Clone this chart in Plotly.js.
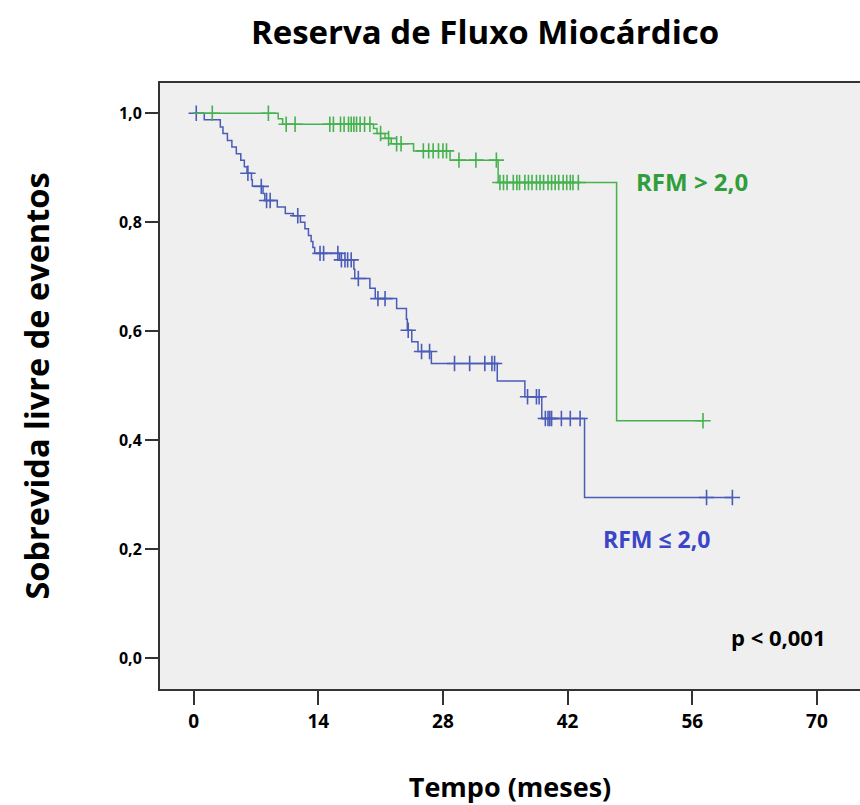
<!DOCTYPE html>
<html>
<head>
<meta charset="utf-8">
<script src="https://cdn.plot.ly/plotly-3.0.1.min.js"></script>
<style>html,body{margin:0;padding:0;background:#fff;}</style>
</head>
<body>
<div id="chart" style="width:860px;height:805px;"></div>
<script>
// Blue group: RFM <= 2,0
const blueEventT = [0, 1.2, 3.0, 3.3, 3.8, 4.3, 4.8, 5.3, 5.7, 6.0, 6.5, 6.6, 7.8, 8.0, 9.4, 10.3, 11.2, 12.0, 12.5, 12.9, 13.2, 13.4, 13.6, 16.4, 18.0, 18.1, 19.8, 20.4, 22.8, 23.9, 24.0, 24.5, 25.2, 26.7, 34.1, 37.2, 39.1, 43.9];
const blueEventS = [1.0, 0.988, 0.975, 0.963, 0.950, 0.938, 0.926, 0.914, 0.902, 0.890, 0.878, 0.866, 0.853, 0.840, 0.828, 0.816, 0.812, 0.800, 0.788, 0.776, 0.765, 0.754, 0.743, 0.731, 0.714, 0.697, 0.679, 0.660, 0.642, 0.622, 0.602, 0.581, 0.563, 0.541, 0.509, 0.480, 0.440, 0.295];
const blueCensorT = [0.3, 6.1, 7.6, 8.2, 8.6, 11.7, 14.2, 14.6, 16.2, 16.6, 17.0, 17.3, 17.7, 18.5, 20.7, 21.5, 24.1, 25.6, 26.5, 29.3, 31.0, 32.7, 33.5, 33.8, 37.5, 38.5, 38.8, 39.5, 39.8, 40.0, 40.2, 41.3, 42.3, 43.4, 57.6, 60.5];
const blueEndT = 60.5;

// Green group: RFM > 2,0
const greenEventT = [0, 9.5, 10.0, 20.2, 20.6, 21.5, 22.2, 24.7, 28.8, 34.2, 47.5];
const greenEventS = [1.0, 0.99, 0.98, 0.972, 0.963, 0.954, 0.944, 0.931, 0.914, 0.873, 0.436];
const greenCensorT = [2.1, 8.4, 10.4, 11.4, 15.3, 15.7, 16.5, 16.9, 17.4, 17.7, 18.0, 18.3, 18.7, 19.2, 19.8, 21.0, 21.9, 22.8, 23.3, 25.8, 26.4, 26.9, 27.5, 28.0, 28.4, 29.8, 31.7, 34.0, 34.4, 34.8, 35.2, 35.9, 36.3, 36.6, 37.2, 37.6, 38.0, 38.5, 38.9, 39.3, 39.8, 40.2, 40.6, 41.0, 41.5, 41.9, 42.3, 42.6, 43.2, 57.2];
const greenEndT = 57.2;

const xTickVals = [0, 14, 28, 42, 56, 70];
const xTickText = ['0', '14', '28', '42', '56', '70'];
const yTickVals = [0, 0.2, 0.4, 0.6, 0.8, 1.0];
const yTickText = ['0,0', '0,2', '0,4', '0,6', '0,8', '1,0'];

const blueColor = '#4a5cb8';
const greenColor = '#45b24f';

function survAt(ts, ss, t) {
  let s = ss[0];
  for (let i = 0; i < ts.length; i++) { if (ts[i] <= t) s = ss[i]; }
  return s;
}
function stepTrace(ts, ss, endT, color) {
  return {
    x: ts.concat([endT]), y: ss.concat([ss[ss.length - 1]]),
    mode: 'lines', line: {shape: 'hv', color: color, width: 1.5},
    hoverinfo: 'skip', showlegend: false, type: 'scatter'
  };
}
function censorTrace(cts, ts, ss, color) {
  return {
    x: cts, y: cts.map(t => survAt(ts, ss, t)),
    mode: 'markers',
    marker: {symbol: 'cross-thin', size: 11, line: {color: color, width: 1.6}, color: color},
    hoverinfo: 'skip', showlegend: false, type: 'scatter'
  };
}

const fontFam = '"Open Sans", "Noto Sans", sans-serif';
const data = [
  stepTrace(blueEventT, blueEventS, blueEndT, blueColor),
  censorTrace(blueCensorT, blueEventT, blueEventS, blueColor),
  stepTrace(greenEventT, greenEventS, greenEndT, greenColor),
  censorTrace(greenCensorT, greenEventT, greenEventS, greenColor)
];

const layout = {
  width: 860, height: 805,
  margin: {l: 160, r: 0, t: 83, b: 116},
  paper_bgcolor: '#ffffff', plot_bgcolor: '#efefef',
  font: {family: fontFam, color: '#000'},
  title: {text: '<b>Reserva de Fluxo Miocárdico</b>', x: 0.564, xanchor: 'center', y: 0.96, yanchor: 'middle',
          font: {size: 33, family: fontFam, color: '#000'}},
  xaxis: {
    range: [-3.77, 74.83], tickvals: xTickVals, ticktext: xTickText,
    showgrid: false, zeroline: false, showline: true, linecolor: '#333', linewidth: 2, mirror: true,
    ticks: 'outside', ticklen: 14, tickwidth: 2, tickcolor: '#333',
    tickfont: {size: 19, family: fontFam, color: '#000', weight: 'bold'},
    title: {text: '<b>Tempo (meses)</b>', font: {size: 27, family: fontFam, color: '#000'}, standoff: 46}
  },
  yaxis: {
    range: [-0.0563, 1.0556], tickvals: yTickVals, ticktext: yTickText,
    showgrid: false, zeroline: false, showline: true, linecolor: '#333', linewidth: 2,
    ticks: 'outside', ticklen: 13, tickwidth: 2, tickcolor: '#333',
    tickfont: {size: 16, family: fontFam, color: '#000', weight: 'bold'},
    title: {text: '<b>Sobrevida livre de eventos</b>', font: {size: 32.5, family: fontFam, color: '#000'}, standoff: 60}
  },
  annotations: [
    {x: 0.76, y: 0.838, xref: 'paper', yref: 'paper', xanchor: 'center', yanchor: 'middle',
     text: '<b>RFM > 2,0</b>', showarrow: false,
     font: {size: 24, family: fontFam, color: '#2f9e3b'}},
    {x: 0.709, y: 0.2475, xref: 'paper', yref: 'paper', xanchor: 'center', yanchor: 'middle',
     text: '<b>RFM ≤ 2,0</b>', showarrow: false,
     font: {size: 23, family: fontFam, color: '#3a45c8'}},
    {x: 0.884, y: 0.0858, xref: 'paper', yref: 'paper', xanchor: 'center', yanchor: 'middle',
     text: '<b>p < 0,001</b>', showarrow: false,
     font: {size: 22, family: fontFam, color: '#000'}}
  ]
};

Plotly.newPlot('chart', data, layout, {displayModeBar: false, staticPlot: true});
</script>
</body>
</html>
